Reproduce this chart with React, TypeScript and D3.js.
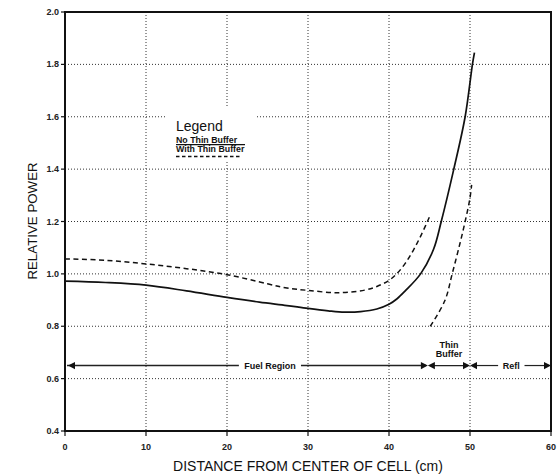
import React from "react";
import * as d3 from "d3";

// ---- data ----
const xTicks = [0, 10, 20, 30, 40, 50, 60];
const yTicks = [0.4, 0.6, 0.8, 1.0, 1.2, 1.4, 1.6, 1.8, 2.0];
const xGrid = [10, 20, 30, 40, 50];
const yGrid = [0.6, 0.8, 1.0, 1.2, 1.4, 1.6, 1.8];

const noBufferX = [0, 5, 10, 15, 20, 24, 27.4, 30, 32.5, 34.5, 36.5, 38.5, 40, 41, 42, 43.9, 45.5, 46.45, 48, 49.4, 50.3, 50.55];
const noBufferY = [0.972, 0.967, 0.957, 0.935, 0.91, 0.892, 0.879, 0.868, 0.859, 0.854, 0.856, 0.866, 0.884, 0.905, 0.935, 1.0, 1.094, 1.2, 1.4, 1.6, 1.8, 1.845];

const withBufferX1 = [0, 5, 10, 15, 20, 25, 27.4, 30, 33.7, 37, 38.5, 40, 41, 42, 43, 44, 45.1];
const withBufferY1 = [1.057, 1.052, 1.038, 1.02, 0.997, 0.962, 0.946, 0.937, 0.928, 0.938, 0.952, 0.975, 1.002, 1.04, 1.09, 1.15, 1.225];

const withBufferX2 = [45.1, 46.9, 47.8, 48.75, 49.4, 50.0, 50.2];
const withBufferY2 = [0.8, 0.898, 1.0, 1.115, 1.2, 1.29, 1.34];

const regionBounds = [0, 44.8, 50, 60];
const regionLabels = ["Fuel Region", "Thin\nBuffer", "Refl"];
const regionLabelX = [25.3, 47.4, 55.1];
const regionLevel = 0.65;

const legendTitle = "Legend";
const legendItems = ["No Thin Buffer", "With Thin Buffer"];

const xTitle = "DISTANCE FROM CENTER OF CELL (cm)";
const yTitle = "RELATIVE POWER";

const W = 559;
const H = 475;
const FONT = "'Liberation Sans', Arial, Helvetica, sans-serif";

export default function App() {
  const x = d3.scaleLinear().domain([0, 60]).range([65, 551]);
  const y = d3.scaleLinear().domain([0.4, 2.0]).range([431, 12]);

  const line = d3
    .line<[number, number]>()
    .x((d) => x(d[0]))
    .y((d) => y(d[1]))
    .curve(d3.curveCatmullRom.alpha(0.5));

  const zip = (a: number[], b: number[]) => a.map((v, i) => [v, b[i]] as [number, number]);

  const ay = y(regionLevel);
  const ah = 7;
  const aw = 3.6;
  const arrowR = (tx: number) => `M${tx},${ay}L${tx - ah},${ay - aw}L${tx - ah},${ay + aw}Z`;
  const arrowL = (tx: number) => `M${tx},${ay}L${tx + ah},${ay - aw}L${tx + ah},${ay + aw}Z`;

  const gridColor = "#333";
  const labFont = 9;

  return (
    <svg
      width={W}
      height={H}
      style={{ position: "absolute", left: 0, top: 0, background: "#fff" }}
      fontFamily={FONT}
    >
      {/* grid */}
      <g stroke={gridColor} strokeWidth={1} strokeDasharray="1,2" fill="none">
        {xGrid.map((v) => (
          <line key={"gx" + v} x1={x(v)} x2={x(v)} y1={y(2.0)} y2={y(0.4)} />
        ))}
        {yGrid.map((v) => (
          <line key={"gy" + v} x1={x(0)} x2={x(60)} y1={y(v)} y2={y(v)} />
        ))}
      </g>

      {/* legend background */}
      <rect x={167} y={106} width={88} height={56} fill="#fff" />
      <g fill="#111">
        <text x={176} y={131} fontSize={14}>
          {legendTitle}
        </text>
        <text x={176} y={142.5} fontSize={8.8} fontWeight="bold">
          {legendItems[0]}
        </text>
        <line x1={176} x2={245} y1={144.6} y2={144.6} stroke="#111" strokeWidth={1.3} />
        <text x={176} y={152} fontSize={8.8} fontWeight="bold">
          {legendItems[1]}
        </text>
        <line x1={176} x2={242} y1={156.5} y2={156.5} stroke="#111" strokeWidth={1.3} strokeDasharray="3.5,2.5" />
      </g>

      {/* curves */}
      <path d={line(zip(noBufferX, noBufferY)) || ""} fill="none" stroke="#111" strokeWidth={1.7} />
      <path
        d={line(zip(withBufferX1, withBufferY1)) || ""}
        fill="none"
        stroke="#111"
        strokeWidth={1.5}
        strokeDasharray="5,3.5"
      />
      <path
        d={line(zip(withBufferX2, withBufferY2)) || ""}
        fill="none"
        stroke="#111"
        strokeWidth={1.5}
        strokeDasharray="5,3.5"
      />

      {/* region dimension arrows */}
      <g>
        {regionLabels.map((lab, i) => {
          const x0 = x(regionBounds[i]);
          const x1 = x(regionBounds[i + 1]);
          const lx = x(regionLabelX[i]);
          const lines = lab.split("\n");
          const inline = lines.length === 1;
          const halfW = inline ? lab.length * 2.55 + 3 : 0;
          return (
            <g key={"r" + i}>
              {inline ? (
                <>
                  <line x1={x0 + 2} x2={lx - halfW} y1={ay} y2={ay} stroke="#222" strokeWidth={i === 0 ? 1.6 : 1.2} />
                  <line x1={lx + halfW} x2={x1 - 2} y1={ay} y2={ay} stroke="#222" strokeWidth={i === 0 ? 1.6 : 1.2} />
                  <text x={lx} y={ay + 3.2} fontSize={labFont} fontWeight="bold" textAnchor="middle" fill="#111">
                    {lab}
                  </text>
                </>
              ) : (
                <>
                  <line x1={x0 + 2} x2={x1 - 2} y1={ay} y2={ay} stroke="#222" strokeWidth={1.2} />
                  {lines.map((t, k) => (
                    <text
                      key={k}
                      x={lx}
                      y={ay - 18 + k * 9}
                      fontSize={labFont}
                      fontWeight="bold"
                      textAnchor="middle"
                      fill="#111"
                    >
                      {t}
                    </text>
                  ))}
                </>
              )}
              <path d={arrowL(x0 + (i === 0 ? 3 : 0))} fill="#111" />
              <path d={arrowR(x1)} fill="#111" />
            </g>
          );
        })}
      </g>

      {/* frame */}
      <rect
        x={x(0)}
        y={y(2.0)}
        width={x(60) - x(0)}
        height={y(0.4) - y(2.0)}
        fill="none"
        stroke="#111"
        strokeWidth={2}
      />

      {/* y axis ticks */}
      <g>
        {yTicks.map((v) => (
          <g key={"yt" + v}>
            <line x1={x(0) - 4} x2={x(0)} y1={y(v)} y2={y(v)} stroke="#111" strokeWidth={1.2} />
            <text x={x(0) - 6} y={y(v) + 3} fontSize={9} fontWeight="bold" textAnchor="end" fill="#222">
              {v.toFixed(1)}
            </text>
          </g>
        ))}
      </g>

      {/* x axis ticks */}
      <g>
        {xTicks.map((v) => (
          <g key={"xt" + v}>
            <line x1={x(v)} x2={x(v)} y1={y(0.4)} y2={y(0.4) + 5} stroke="#111" strokeWidth={1.2} />
            <text x={x(v)} y={450} fontSize={9} fontWeight="bold" textAnchor="middle" fill="#222">
              {v}
            </text>
          </g>
        ))}
      </g>

      {/* axis titles */}
      <text x={308} y={471} fontSize={14} textAnchor="middle" fill="#111">
        {xTitle}
      </text>
      <text
        transform={`translate(37,221) rotate(-90)`}
        fontSize={13.3}
        textAnchor="middle"
        fill="#111"
      >
        {yTitle}
      </text>
    </svg>
  );
}
